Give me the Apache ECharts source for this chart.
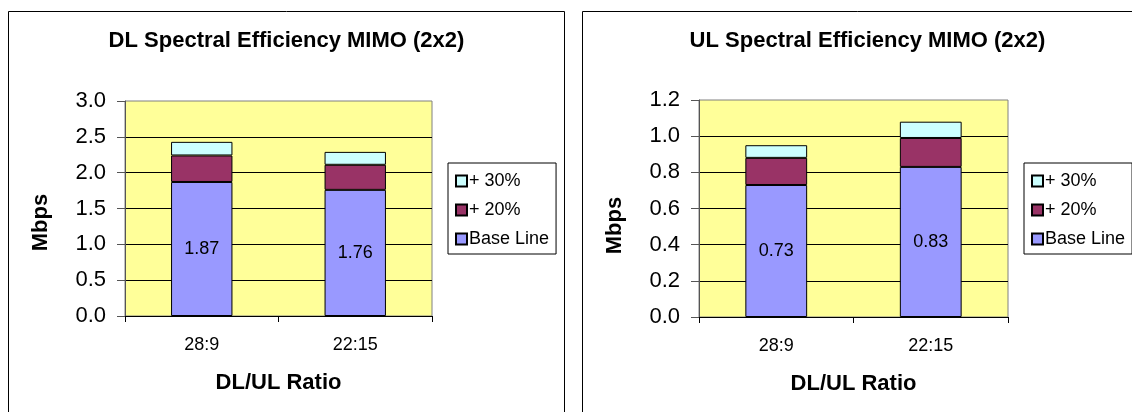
<!DOCTYPE html>
<html>
<head>
<meta charset="utf-8">
<script src="https://cdn.jsdelivr.net/npm/echarts@6/dist/echarts.min.js"></script>
<style>
html,body{margin:0;padding:0;background:#fff;}
#c{width:1132px;height:412px;}
</style>
</head>
<body>
<div id="c"></div>
<script>
// ---- data ----
const categories = ['28:9', '22:15'];
const seriesNames = ['Base Line', '+ 20%', '+ 30%'];
const dlBase = [1.87, 1.76];
const dl20 = [0.37, 0.35];
const dl30 = [0.19, 0.18];
const ulBase = [0.73, 0.83];
const ul20 = [0.15, 0.16];
const ul30 = [0.07, 0.09];
const dlTitle = 'DL Spectral Efficiency MIMO (2x2)';
const ulTitle = 'UL Spectral Efficiency MIMO (2x2)';
const xName = 'DL/UL Ratio';
const yName = 'Mbps';

const FONT = "'Liberation Sans', Arial, sans-serif";
const colors = {'Base Line': '#9999FF', '+ 20%': '#993366', '+ 30%': '#CCFFFF'};

const chart = echarts.init(document.getElementById('c'), null, {renderer: 'canvas'});

function mkX(gi) {
  return {
    type: 'category', gridIndex: gi, data: categories,
    name: xName, nameLocation: 'middle', nameGap: 56,
    nameTextStyle: {fontFamily: FONT, fontSize: 22, fontWeight: 'bold', color: '#000'},
    axisLine: {lineStyle: {color: '#000', width: 1}},
    axisTick: {show: true, length: 6, lineStyle: {color: '#000'}},
    axisLabel: {fontFamily: FONT, fontSize: 18, color: '#000', margin: 20},
    splitLine: {show: false}
  };
}
function mkY(gi, max, interval, pad) {
  return {
    type: 'value', gridIndex: gi, min: 0, max: max, interval: interval,
    name: yName, nameLocation: 'middle', nameGap: 73,
    nameTextStyle: {fontFamily: FONT, fontSize: 22, fontWeight: 'bold', color: '#000', padding: [0, pad, 0, 0]},
    axisLine: {show: true, lineStyle: {color: '#555', width: 1}},
    axisTick: {show: true, length: 8, lineStyle: {color: '#555'}},
    axisLabel: {fontFamily: FONT, fontSize: 22, color: '#000', margin: 19,
      formatter: v => v.toFixed(1)},
    splitLine: {show: true, showMaxLine: false, lineStyle: {color: '#000', width: 1}}
  };
}
function mkSeries(gi, stack, base, p20, p30) {
  const common = {type: 'bar', stack: stack, xAxisIndex: gi, yAxisIndex: gi, barWidth: '40%',
    emphasis: {disabled: true}};
  return [
    Object.assign({}, common, {name: 'Base Line', data: base,
      itemStyle: {color: colors['Base Line'], borderColor: '#000', borderWidth: 1},
      label: {show: true, position: 'inside', fontFamily: FONT, fontSize: 18, color: '#000',
        formatter: p => p.value.toFixed(2)}}),
    Object.assign({}, common, {name: '+ 20%', data: p20,
      itemStyle: {color: colors['+ 20%'], borderColor: '#000', borderWidth: 1}}),
    Object.assign({}, common, {name: '+ 30%', data: p30,
      itemStyle: {color: colors['+ 30%'], borderColor: '#000', borderWidth: 1}})
  ];
}
function mkLegend(left) {
  return {
    orient: 'vertical', left: left, top: 163,
    data: ['+ 30%', '+ 20%', 'Base Line'],
    icon: 'rect', itemWidth: 11, itemHeight: 11, itemGap: 11,
    padding: [9, 7, 6, 7],
    borderColor: '#000', borderWidth: 1, backgroundColor: '#fff',
    textStyle: {fontFamily: FONT, fontSize: 18, color: '#000', padding: [0, 0, 0, -3]},
    selectedMode: false
  };
}

const option = {
  animation: false,
  backgroundColor: '#fff',
  graphic: {elements: [
    {type: 'rect', shape: {x: 8.5, y: 11.5, width: 556, height: 430}, style: {fill: 'none', stroke: '#000', lineWidth: 1}, silent: true},
    {type: 'rect', shape: {x: 582.5, y: 11.5, width: 600, height: 430}, style: {fill: 'none', stroke: '#000', lineWidth: 1}, silent: true}
  ]},
  title: [
    {text: dlTitle, left: 286.5, top: 30, textAlign: 'center', padding: 0,
      textStyle: {fontFamily: FONT, fontSize: 22, fontWeight: 'bold', color: '#000'}},
    {text: ulTitle, left: 867.5, top: 30, textAlign: 'center', padding: 0,
      textStyle: {fontFamily: FONT, fontSize: 22, fontWeight: 'bold', color: '#000'}}
  ],
  legend: [mkLegend(448), mkLegend(1024)],
  grid: [
    {left: 125, top: 101, width: 307, height: 215, show: true, backgroundColor: '#FFFF99', borderColor: '#808080', borderWidth: 1, containLabel: false},
    {left: 699, top: 100, width: 309, height: 217, show: true, backgroundColor: '#FFFF99', borderColor: '#808080', borderWidth: 1, containLabel: false}
  ],
  xAxis: [mkX(0), mkX(1)],
  yAxis: [mkY(0, 3, 0.5, 28), mkY(1, 1.2, 0.2, 34)],
  series: [].concat(mkSeries(0, 'dl', dlBase, dl20, dl30), mkSeries(1, 'ul', ulBase, ul20, ul30))
};
chart.setOption(option);
</script>
</body>
</html>
